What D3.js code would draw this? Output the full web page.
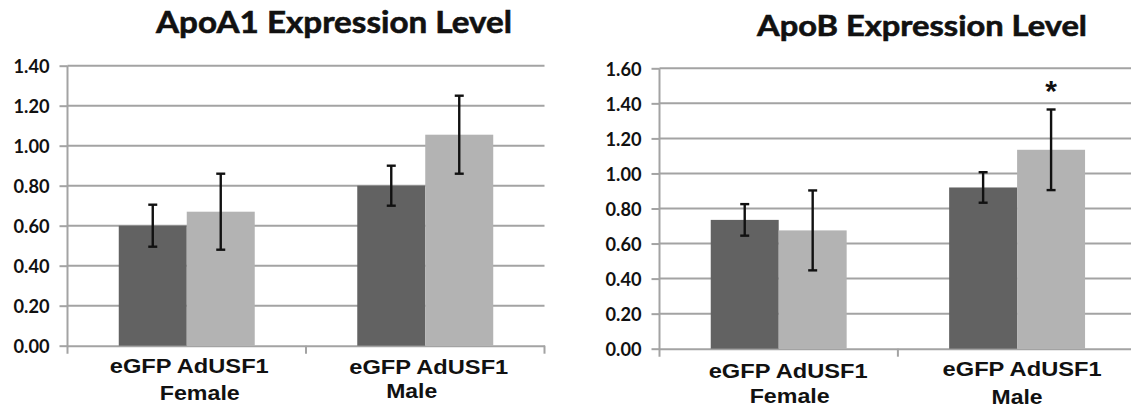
<!DOCTYPE html>
<html>
<head>
<meta charset="utf-8">
<script src="https://cdn.jsdelivr.net/npm/d3@7"></script>
<style>
  html, body { margin: 0; padding: 0; background: #fff; }
  svg { display: block; }
</style>
</head>
<body>
<svg id="chart" width="1131" height="413"></svg>
<script>
// ---- data ----
const categories = ["Female", "Male"];
const groups = ["eGFP", "AdUSF1"];
const groupLabel = "eGFP AdUSF1";

const apoA1Title = "ApoA1 Expression Level";
const apoA1Ticks = [0, 0.2, 0.4, 0.6, 0.8, 1.0, 1.2, 1.4];
const apoA1_eGFP = [0.60, 0.80];
const apoA1_AdUSF1 = [0.67, 1.055];
const apoA1_eGFP_err = [0.105, 0.10];
const apoA1_AdUSF1_err = [0.19, 0.195];
const apoA1_sig = [false, false];

const apoBTitle = "ApoB Expression Level";
const apoBTicks = [0, 0.2, 0.4, 0.6, 0.8, 1.0, 1.2, 1.4, 1.6];
const apoB_eGFP = [0.735, 0.92];
const apoB_AdUSF1 = [0.675, 1.135];
const apoB_eGFP_err = [0.09, 0.087];
const apoB_AdUSF1_err = [0.228, 0.23];
const apoB_sig = [false, true];

const colors = {eGFP: "#626262", AdUSF1: "#b3b3b3"};
const gridColor = "#a3a3a3";

const svg = d3.select("#chart");

function drawChart(cfg) {
  const g = svg.append("g");
  const x = d3.scaleBand().domain(categories).range([cfg.x0, cfg.x0 + cfg.catW * categories.length]).padding(0);
  const xi = d3.scaleBand().domain(groups).range([0, x.bandwidth()]).paddingInner(0).paddingOuter(0.754);
  const y = d3.scaleLinear().domain([0, cfg.ymax]).range([cfg.yBottom, cfg.yTop]);

  // gridlines
  g.append("g").selectAll("line").data(cfg.ticks.filter(t => t > 0)).join("line")
    .attr("x1", cfg.x0).attr("x2", x.range()[1])
    .attr("y1", d => y(d)).attr("y2", d => y(d))
    .attr("stroke", gridColor).attr("stroke-width", 2);

  // y axis
  const yAxis = d3.axisLeft(y).tickValues(cfg.ticks).tickFormat(d3.format(".2f")).tickSize(8).tickPadding(10);
  const ya = g.append("g").attr("transform", `translate(${cfg.x0},0)`).call(yAxis);
  ya.select(".domain").attr("stroke", gridColor).attr("stroke-width", 2)
    .attr("d", `M0,${cfg.yTop}V${cfg.yBottom + 8}`);
  ya.selectAll(".tick line").attr("stroke", gridColor).attr("stroke-width", 2);
  ya.selectAll(".tick text").attr("font-family", "Lato, sans-serif").attr("font-weight", "bold")
    .attr("font-size", 19).attr("fill", "#111").attr("dy", "0.36em")
    .attr("textLength", 36).attr("lengthAdjust", "spacingAndGlyphs");

  // x axis
  const xAxis = d3.axisBottom(x).tickValues([]).tickSize(0);
  const xa = g.append("g").attr("transform", `translate(0,${cfg.yBottom})`).call(xAxis);
  xa.select(".domain").attr("stroke", gridColor).attr("stroke-width", 2);
  // category divider ticks
  g.append("g").selectAll("line").data(categories).join("line")
    .attr("x1", d => x(d) + x.bandwidth()).attr("x2", d => x(d) + x.bandwidth())
    .attr("y1", cfg.yBottom).attr("y2", cfg.yBottom + 8)
    .attr("stroke", gridColor).attr("stroke-width", 2);

  // bars
  const series = [
    {key: "eGFP", vals: cfg.eGFP, err: cfg.eGFPerr},
    {key: "AdUSF1", vals: cfg.AdUSF1, err: cfg.AdUSF1err}
  ];
  const pts = [];
  series.forEach(s => categories.forEach((c, i) => pts.push({cat: c, key: s.key, v: s.vals[i], e: s.err[i], i})));

  g.append("g").selectAll("rect").data(pts).join("rect")
    .attr("x", d => x(d.cat) + xi(d.key))
    .attr("width", xi.bandwidth())
    .attr("y", d => y(d.v))
    .attr("height", d => y(0) - y(d.v))
    .attr("fill", d => colors[d.key]);

  // error bars
  const eb = g.append("g").attr("stroke", "#111").attr("stroke-width", 2.4);
  const cx = d => x(d.cat) + xi(d.key) + xi.bandwidth() / 2;
  eb.selectAll("line.v").data(pts).join("line").attr("class", "v")
    .attr("x1", cx).attr("x2", cx)
    .attr("y1", d => y(d.v + d.e)).attr("y2", d => y(d.v - d.e));
  eb.selectAll("line.t").data(pts).join("line").attr("class", "t")
    .attr("x1", d => cx(d) - 4.5).attr("x2", d => cx(d) + 4.5)
    .attr("y1", d => y(d.v + d.e)).attr("y2", d => y(d.v + d.e));
  eb.selectAll("line.b").data(pts).join("line").attr("class", "b")
    .attr("x1", d => cx(d) - 4.5).attr("x2", d => cx(d) + 4.5)
    .attr("y1", d => y(d.v - d.e)).attr("y2", d => y(d.v - d.e));

  // significance marks
  const sigPts = pts.filter(d => d.key === "AdUSF1" && cfg.sig[d.i]);
  g.append("g").selectAll("text").data(sigPts).join("text")
    .attr("x", cx).attr("y", d => y(d.v + d.e) - 8)
    .attr("text-anchor", "middle")
    .attr("font-family", "'Liberation Sans', Arial, sans-serif").attr("font-weight", "bold")
    .attr("font-size", 30).attr("fill", "#111").text("*");

  // category labels
  categories.forEach((c, i) => {
    const lab = cfg.catLabels[i];
    g.append("text").attr("x", x(c) + x.bandwidth() / 2 + lab.dx1).attr("y", lab.y1)
      .attr("text-anchor", "middle")
      .attr("font-family", "'Liberation Sans', Arial, sans-serif").attr("font-weight", "bold")
      .attr("font-size", 21).attr("fill", "#111")
      .attr("textLength", 159).attr("lengthAdjust", "spacingAndGlyphs")
      .text(groupLabel);
    const w2 = c === "Female" ? 80 : 51;
    g.append("text").attr("x", x(c) + x.bandwidth() / 2 + lab.dx2).attr("y", lab.y2)
      .attr("text-anchor", "middle")
      .attr("font-family", "'Liberation Sans', Arial, sans-serif").attr("font-weight", "bold")
      .attr("font-size", 21).attr("fill", "#111")
      .attr("textLength", w2).attr("lengthAdjust", "spacingAndGlyphs")
      .text(c);
  });

  // title
  g.append("text").attr("x", cfg.titleX).attr("y", cfg.titleY)
    .attr("text-anchor", "middle")
    .attr("font-family", "Lato, sans-serif").attr("font-weight", "bold")
    .attr("font-size", cfg.titleSize).attr("fill", "#111")
    .attr("stroke", "#111").attr("stroke-width", 0.6)
    .attr("textLength", cfg.titleW).attr("lengthAdjust", "spacingAndGlyphs")
    .text(cfg.title);
}

drawChart({
  title: apoA1Title, titleX: 334, titleY: 33, titleSize: 31, titleW: 356,
  x0: 67.5, catW: 238.5, yTop: 65.7, yBottom: 345.7, ymax: 1.4, ticks: apoA1Ticks,
  eGFP: apoA1_eGFP, AdUSF1: apoA1_AdUSF1, eGFPerr: apoA1_eGFP_err, AdUSF1err: apoA1_AdUSF1_err, sig: apoA1_sig,
  catLabels: [{dx1: 2.5, y1: 373, dx2: 13, y2: 399.5}, {dx1: 3.5, y1: 373.5, dx2: -13.5, y2: 397.5}]
});

drawChart({
  title: apoBTitle, titleX: 922, titleY: 36, titleSize: 29, titleW: 330,
  x0: 659.5, catW: 238.4, yTop: 68.3, yBottom: 348.7, ymax: 1.6, ticks: apoBTicks,
  eGFP: apoB_eGFP, AdUSF1: apoB_AdUSF1, eGFPerr: apoB_eGFP_err, AdUSF1err: apoB_AdUSF1_err, sig: apoB_sig,
  catLabels: [{dx1: 9.5, y1: 378, dx2: 11, y2: 403}, {dx1: 5, y1: 376, dx2: 0, y2: 403.5}]
});
</script>
</body>
</html>
